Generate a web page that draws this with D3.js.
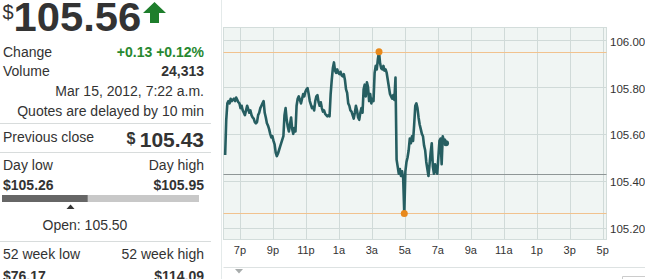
<!DOCTYPE html>
<html>
<head>
<meta charset="utf-8">
<script src="https://cdn.jsdelivr.net/npm/d3@7"></script>
<style>
  body { margin: 0; background: #fff; }
  svg { display: block; font-family: "Liberation Sans", Arial, sans-serif; }
</style>
</head>
<body>
<script>
// quote figures
var lastPrice = 105.56, prevClose = 105.43, openPrice = 105.50;
var dayLow = 105.26, dayHigh = 105.95;
var weekLow = 76.17, weekHigh = 114.09;
var changeText = "+0.13 +0.12%", volumeText = "24,313";
var stampText = "Mar 15, 2012, 7:22 a.m.", delayText = "Quotes are delayed by 10 min";

// intraday prices, one every 4 minutes from 6:06 pm
var startTime = new Date(2012, 2, 14, 18, 6), stepMinutes = 4;
var prices = [
  105.51, 105.66, 105.73, 105.74, 105.73, 105.75, 105.74, 105.745, 105.75, 105.74,
  105.755, 105.745, 105.735, 105.73, 105.71, 105.72, 105.70, 105.69, 105.68, 105.70,
  105.72, 105.705, 105.69, 105.70, 105.68, 105.67, 105.665, 105.65, 105.645, 105.65,
  105.68, 105.69, 105.71, 105.72, 105.73, 105.74, 105.69, 105.67, 105.645, 105.635,
  105.62, 105.60, 105.585, 105.59, 105.57, 105.555, 105.52, 105.505, 105.515, 105.53,
  105.545, 105.56, 105.575, 105.59, 105.68, 105.71, 105.66, 105.63, 105.61, 105.64,
  105.67, 105.62, 105.60, 105.625, 105.61, 105.72, 105.75, 105.76, 105.745, 105.73,
  105.75, 105.77, 105.76, 105.78, 105.79, 105.795, 105.77, 105.74, 105.725, 105.71,
  105.715, 105.70, 105.74, 105.76, 105.765, 105.735, 105.72, 105.735, 105.71, 105.695,
  105.70, 105.685, 105.68, 105.675, 105.68, 105.675, 105.77, 105.83, 105.88, 105.905,
  105.87, 105.86, 105.875, 105.86, 105.855, 105.865, 105.85, 105.845, 105.855, 105.83,
  105.79, 105.775, 105.73, 105.72, 105.70, 105.695, 105.68, 105.665, 105.69, 105.72,
  105.70, 105.67, 105.66, 105.69, 105.71, 105.69, 105.79, 105.81, 105.76, 105.82,
  105.80, 105.74, 105.77, 105.73, 105.75, 105.74, 105.86, 105.89, 105.875, 105.92,
  105.95, 105.90, 105.88, 105.875, 105.89, 105.87, 105.875, 105.86, 105.83, 105.80,
  105.77, 105.76, 105.75, 105.765, 105.745, 105.84, 105.49, 105.46, 105.43, 105.45,
  105.42, 105.44, 105.41, 105.26, 105.44, 105.48, 105.50, 105.53, 105.58, 105.56,
  105.59, 105.57, 105.64, 105.72, 105.73, 105.71, 105.67, 105.64, 105.62, 105.60,
  105.59, 105.55, 105.53, 105.48, 105.45, 105.42, 105.47, 105.52, 105.56, 105.46,
  105.43, 105.47, 105.44, 105.43, 105.50, 105.57, 105.58, 105.47, 105.59, 105.57,
  105.575, 105.56
];

var yTicks = [105.20, 105.40, 105.60, 105.80, 106.00];
var xTicks = d3.range(12).map(function(k) { return new Date(2012, 2, 14, 19 + 2 * k); });

var W = 645, H = 279;
var plot = {left: 223.5, right: 606.5, top: 27.5, bottom: 239.5};

var svg = d3.select("body").append("svg")
    .attr("width", W)
    .attr("height", H);

var x = d3.scaleTime()
    .domain([new Date(2012, 2, 14, 18, 0), new Date(2012, 2, 15, 17, 14)])
    .range([plot.left, plot.right]);
var y = d3.scaleLinear()
    .domain([105.149, 106.054])
    .range([plot.bottom, plot.top]);

var data = prices.map(function(p, i) {
  return {t: d3.timeMinute.offset(startTime, i * stepMinutes), v: p};
});

// ---------- left quote panel ----------
var ink = "#333", right = 204;
var panel = svg.append("g").attr("fill", ink);

panel.append("text").attr("x", 2.4).attr("y", 19)
    .style("font-size", "20px").text("$");
panel.append("text")
    .attr("transform", "translate(13.5,31) scale(1.045,1)")
    .style("font-size", "40px").style("font-weight", "bold")
    .text(lastPrice.toFixed(2));
// up arrow
panel.append("path")
    .attr("d", "M154.5,2 L166,13 L159,13 L159,23 L150,23 L150,13 L143,13 Z")
    .attr("fill", "#1e7e2c");

function row(label, value, yy, valueColor) {
  panel.append("text").attr("x", 3).attr("y", yy).style("font-size", "14px").text(label);
  panel.append("text").attr("x", right).attr("y", yy).attr("text-anchor", "end")
      .style("font-size", "14px").style("font-weight", "bold")
      .attr("fill", valueColor || ink).text(value);
}
row("Change", changeText, 57, "#27882f");
row("Volume", volumeText, 76);
panel.append("text").attr("x", right).attr("y", 96).attr("text-anchor", "end")
    .style("font-size", "14px").text(stampText);
panel.append("text").attr("x", right).attr("y", 116).attr("text-anchor", "end")
    .style("font-size", "14px").text(delayText);

var seps = [123.5, 152.5, 241.5];
panel.selectAll(".sep").data(seps).enter().append("line")
    .attr("x1", 0).attr("x2", 211).attr("y1", function(d) { return d; }).attr("y2", function(d) { return d; })
    .attr("stroke", "#d8dcdc");

panel.append("text").attr("x", 3).attr("y", 142).style("font-size", "14px").text("Previous close");
panel.append("text").attr("x", right).attr("y", 147).attr("text-anchor", "end")
    .style("font-weight", "bold")
    .html('<tspan style="font-size:16px" dy="-3">$ </tspan><tspan style="font-size:21px" dy="3">' + prevClose.toFixed(2) + '</tspan>');

panel.append("text").attr("x", 3).attr("y", 170).style("font-size", "14px").text("Day low");
panel.append("text").attr("x", right).attr("y", 170).attr("text-anchor", "end")
    .style("font-size", "14px").text("Day high");
panel.append("text").attr("x", 3).attr("y", 190).style("font-size", "14px").style("font-weight", "bold")
    .text("$" + dayLow.toFixed(2));
panel.append("text").attr("x", right).attr("y", 190).attr("text-anchor", "end")
    .style("font-size", "14px").style("font-weight", "bold").text("$" + dayHigh.toFixed(2));

// day range bar
var r = d3.scaleLinear().domain([dayLow, dayHigh]).range([2, 199]);
panel.append("rect").attr("x", r(dayLow)).attr("y", 195).attr("width", r(dayHigh) - r(dayLow)).attr("height", 7)
    .attr("fill", "#c8c8c8");
panel.append("rect").attr("x", r(dayLow)).attr("y", 195).attr("width", r(lastPrice) - r(dayLow)).attr("height", 7)
    .attr("fill", "#666");
var ox = r(openPrice);
panel.append("path").attr("d", "M" + (ox - 4) + ",209 L" + ox + ",204.5 L" + (ox + 4) + ",209 Z").attr("fill", "#333");
panel.append("text").attr("x", 85).attr("y", 230).attr("text-anchor", "middle")
    .style("font-size", "14px").text("Open: " + openPrice.toFixed(2));

panel.append("text").attr("x", 3).attr("y", 259).style("font-size", "14px").text("52 week low");
panel.append("text").attr("x", right).attr("y", 259).attr("text-anchor", "end")
    .style("font-size", "14px").text("52 week high");
panel.append("text").attr("x", 3).attr("y", 281).style("font-size", "14px").style("font-weight", "bold")
    .text("$" + weekLow.toFixed(2));
panel.append("text").attr("x", right).attr("y", 281).attr("text-anchor", "end")
    .style("font-size", "14px").style("font-weight", "bold").text("$" + weekHigh.toFixed(2));

// panel divider
svg.append("line").attr("x1", 221.5).attr("x2", 221.5).attr("y1", 0).attr("y2", H).attr("stroke", "#e4eaea");

// ---------- chart ----------
svg.append("rect")
    .attr("x", plot.left).attr("y", plot.top)
    .attr("width", plot.right - plot.left).attr("height", plot.bottom - plot.top)
    .attr("fill", "#f0f5f3").attr("stroke", "#d3dddb");

var grid = svg.append("g").attr("stroke", "#d0dad8");
grid.selectAll(".vx").data(xTicks).enter().append("line")
    .attr("x1", function(d) { return Math.round(x(d)) + 0.5; })
    .attr("x2", function(d) { return Math.round(x(d)) + 0.5; })
    .attr("y1", plot.top).attr("y2", plot.bottom);
grid.selectAll(".hy").data(yTicks).enter().append("line")
    .attr("x1", plot.left).attr("x2", plot.right)
    .attr("y1", function(d) { return Math.round(y(d)) + 0.5; })
    .attr("y2", function(d) { return Math.round(y(d)) + 0.5; });

// reference lines: day high / low, previous close
[dayHigh, dayLow].forEach(function(v) {
  svg.append("line").attr("x1", plot.left).attr("x2", plot.right)
      .attr("y1", Math.round(y(v)) + 0.5).attr("y2", Math.round(y(v)) + 0.5)
      .attr("stroke", "#f1c28e");
});
svg.append("line").attr("x1", plot.left).attr("x2", plot.right)
    .attr("y1", Math.round(y(prevClose)) + 0.5).attr("y2", Math.round(y(prevClose)) + 0.5)
    .attr("stroke", "#8f9696");

var line = d3.line().x(function(d) { return x(d.t); }).y(function(d) { return y(d.v); });
svg.append("path").datum(data)
    .attr("d", line)
    .attr("fill", "none")
    .attr("stroke", "#265e61")
    .attr("stroke-width", 2.6)
    .attr("stroke-linejoin", "round");

var last = data[data.length - 1];
svg.append("circle").attr("cx", x(last.t)).attr("cy", y(last.v)).attr("r", 3).attr("fill", "#265e61");

var hi = data[d3.maxIndex(data, function(d) { return d.v; })];
var lo = data[d3.minIndex(data, function(d) { return d.v; })];
svg.selectAll(".ext").data([hi, lo]).enter().append("circle")
    .attr("cx", function(d) { return x(d.t); })
    .attr("cy", function(d) { return y(d.v); })
    .attr("r", 3.5)
    .attr("fill", "#e8891c");

// axes labels
var fmt = function(d) { var h = d.getHours(); return (h % 12 || 12) + (h < 12 ? "a" : "p"); };
svg.selectAll(".xl").data(xTicks).enter().append("text")
    .attr("x", function(d) { return x(d); })
    .attr("y", 254)
    .attr("text-anchor", "middle")
    .attr("fill", ink)
    .style("font-size", "11px")
    .text(fmt);
svg.selectAll(".yl").data(yTicks).enter().append("text")
    .attr("x", 610)
    .attr("y", function(d) { return y(d) + 5.5; })
    .attr("fill", ink)
    .style("font-size", "11.5px")
    .text(function(d) { return d.toFixed(2); });

// bottom strip
svg.append("line").attr("x1", plot.left).attr("x2", W).attr("y1", 267.5).attr("y2", 267.5).attr("stroke", "#dde2e2");
svg.append("path").attr("d", "M235,269 L243,269 L239,273.5 Z").attr("fill", "#a8acac");
svg.append("path").attr("d", "M622.5,279 L622.5,276.5 L645,276.5").attr("fill", "none").attr("stroke", "#ccc");
</script>
</body>
</html>
